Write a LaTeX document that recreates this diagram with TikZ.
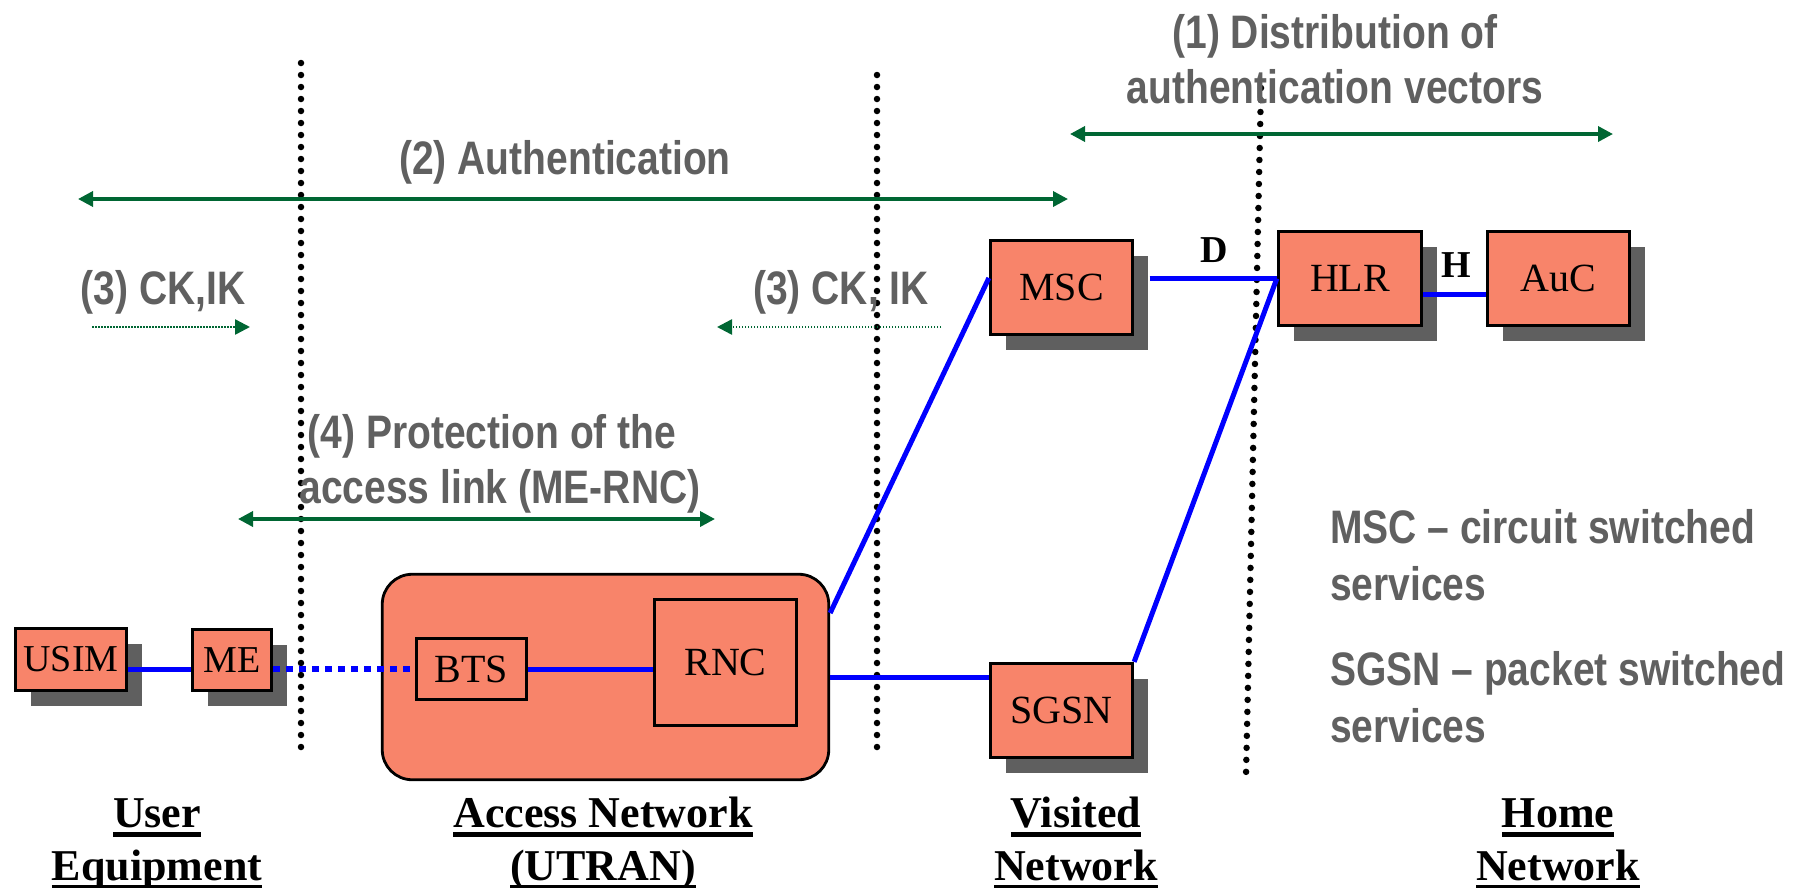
\documentclass[tikz,border=0pt]{standalone}
\usepackage{fontspec}
\setmainfont{Liberation Serif}
\newfontfamily\grayfont{Liberation Sans}[FakeStretch=0.83]
\usetikzlibrary{arrows.meta,shadows}
\definecolor{salmonbox}{RGB}{248,132,106}
\definecolor{shadowgray}{RGB}{95,95,95}
\definecolor{arrgreen}{RGB}{0,102,51}
\definecolor{txtgray}{RGB}{96,96,96}
\definecolor{linkblue}{RGB}{0,0,255}
\newcommand\myul[1]{\setbox0\hbox{#1}\rlap{\rule[-9.7pt]{\wd0}{5pt}}\box0}
\begin{document}
\begin{tikzpicture}[x=1pt,y=-1pt,
  netbox/.style={draw=black, line width=2.8pt, fill=salmonbox, inner sep=0pt,
    font=\fontsize{40}{48}\selectfont,
    drop shadow={shadow xshift=15.5pt, shadow yshift=-15.5pt, fill=shadowgray, opacity=1}},
  smallbox/.style={netbox, font=\fontsize{38}{46}\selectfont},
  innerbox/.style={draw=black, line width=2.8pt, fill=salmonbox, inner sep=0pt,
    font=\fontsize{40}{48}\selectfont},
  anbox/.style={draw=black, line width=2.8pt, fill=salmonbox, rounded corners=30pt, inner sep=0pt},
  vdots/.style={line width=6.5pt, dash pattern=on 0pt off 12pt, line cap=round, black},
  blueline/.style={draw=linkblue, line width=5pt},
  bluedots/.style={draw=linkblue, line width=5.5pt, dash pattern=on 7pt off 6pt},
  garrow/.style={draw=arrgreen, line width=3.5pt,
    {Triangle[length=15pt,width=15pt]}-{Triangle[length=15pt,width=15pt]}},
  gdotarrow/.style={draw=arrgreen, line width=2.5pt, dash pattern=on 1.5pt off 1.5pt,
    -{Triangle[length=15pt,width=15pt]}},
  graytext/.style={text=txtgray, inner sep=0pt, font=\grayfont\bfseries\fontsize{47}{57}\selectfont},
  labeltext/.style={inner sep=0pt, anchor=base, font=\bfseries\fontsize{44}{55}\selectfont},
  iflabel/.style={inner sep=0pt, font=\bfseries\fontsize{38}{46}\selectfont}
]
\useasboundingbox (0,0) rectangle (1800,887);

% dotted boundaries
\draw[vdots] (301,63) -- (301,752);
\draw[vdots] (877,75) -- (877,750);
\draw[vdots] (1261,88) -- (1246,775);

% access network
\node[anbox, minimum width=446.5pt, minimum height=205.5pt] (an) at (605.5,677) {};
\node[innerbox, minimum width=110.5pt, minimum height=61.5pt] (bts) at (471.5,669) {BTS};
\node[innerbox, minimum width=142.5pt, minimum height=126.5pt] (rnc) at (725.5,662.5) {RNC};

% user equipment
\node[smallbox, minimum width=111.5pt, minimum height=62.5pt] (usim) at (71,659.5) {USIM};
\node[smallbox, minimum width=79.5pt, minimum height=61.5pt] (me) at (232,660) {ME};

% core boxes
\node[netbox, minimum width=142.5pt, minimum height=94.5pt] (msc) at (1061.5,287.5) {MSC};
\node[netbox, minimum width=142.5pt, minimum height=94.5pt] (sgsn) at (1061.5,710.5) {SGSN};
\node[netbox, minimum width=143.5pt, minimum height=94.5pt] (hlr) at (1350,278.5) {HLR};
\node[netbox, minimum width=142.5pt, minimum height=94.5pt] (auc) at (1558.5,278.5) {AuC};

% blue links
\draw[blueline] (usim.east |- bts.west) -- (me.west |- bts.west);
\draw[bluedots] (me.east |- bts.west) -- (bts.west);
\draw[blueline] (bts.east) -- (bts.east -| rnc.west);
\draw[blueline] (an.east) -- (an.east -| sgsn.west);
\coordinate (anTop) at ([yshift=64pt]an.east);
\coordinate (mscIn) at ([yshift=9.5pt]msc.west);
\draw[blueline] (anTop) -- (mscIn);
\coordinate (mscR) at ([xshift=15.5pt]msc.east);
\draw[blueline] (mscR |- hlr.west) -- (hlr.west);
\draw[blueline] (hlr.west) -- (sgsn.north east);
\draw[blueline] ([yshift=-15.5pt]hlr.east) -- ([yshift=-15.5pt]auc.west);

% interface labels
\node[iflabel] (ifD) at (1214,250) {D};
\node[iflabel] (ifH) at (1456,265) {H};

% green arrows
\coordinate (a1L) at (1070,134);
\coordinate (a1R) at (1613,134);
\draw[garrow] (a1L) -- (a1R);
\coordinate (a2L) at (78,199);
\coordinate (a2R) at (1068,199);
\draw[garrow] (a2L) -- (a2R);
\coordinate (a4L) at (238,519);
\coordinate (a4R) at (715,519);
\draw[garrow] (a4L) -- (a4R);
\coordinate (a3aS) at (92,327);
\coordinate (a3aE) at (250,327);
\draw[gdotarrow] (a3aS) -- (a3aE);
\coordinate (a3bS) at (941,327);
\coordinate (a3bE) at (717,327);
\draw[gdotarrow] (a3bS) -- (a3bE);

% gray texts
\node[graytext, anchor=base] (t1a) at (1335,48) {(1) Distribution of};
\node[graytext, anchor=base] (t1b) at (1335,103) {authentication vectors};
\node[graytext, anchor=base] (t2) at (565,174) {(2) Authentication};
\node[graytext, anchor=base] (t3a) at (163,304) {(3) CK,IK};
\node[graytext, anchor=base] (t3b) at (841,304) {(3) CK, IK};
\node[graytext, anchor=base] (t4a) at (492,448) {(4) Protection of the};
\node[graytext, anchor=base] (t4b) at (500,503) {access link (ME-RNC)};
\node[graytext, anchor=base west] (n1a) at (1330,543) {MSC – circuit switched};
\node[graytext, anchor=base west] (n1b) at (1330,600) {services};
\node[graytext, anchor=base west] (n2a) at (1330,685) {SGSN – packet switched};
\node[graytext, anchor=base west] (n2b) at (1330,742) {services};

% domain labels
\node[labeltext] (ueA) at (157,827) {\myul{User}};
\node[labeltext] (ueB) at (157,880) {\myul{Equipment}};
\node[labeltext] (anA) at (603,827) {\myul{Access Network}};
\node[labeltext] (anB) at (603,880) {\myul{(UTRAN)}};
\node[labeltext] (vnA) at (1076,827) {\myul{Visited}};
\node[labeltext] (vnB) at (1076,880) {\myul{Network}};
\node[labeltext] (hnA) at (1558,827) {\myul{Home}};
\node[labeltext] (hnB) at (1558,880) {\myul{Network}};
\end{tikzpicture}
\end{document}
